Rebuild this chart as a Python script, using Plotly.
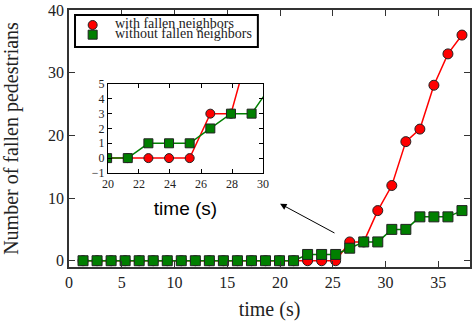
import plotly.graph_objects as go

# data
time_s = [1.33, 2.66, 3.99, 5.32, 6.65, 7.98, 9.31, 10.64, 11.97, 13.3, 14.63, 15.96, 17.29, 18.62,
          19.95, 21.28, 22.61, 23.94, 25.27, 26.6, 27.93, 29.26, 30.59, 31.92, 33.25, 34.58, 35.91, 37.24]
with_fallen = [0, 0, 0, 0, 0, 0, 0, 0, 0, 0, 0, 0, 0, 0,
               0, 0, 0, 0, 0, 3, 3, 8, 12, 19, 21, 28, 33, 36]
without_fallen = [0, 0, 0, 0, 0, 0, 0, 0, 0, 0, 0, 0, 0, 0,
                  0, 0, 1, 1, 1, 2, 3, 3, 5, 5, 7, 7, 7, 8]
legend_names = ["with fallen neighbors", "without fallen neighbors"]

serif = "Liberation Serif"
red = "#ff0000"
green = "#007f00"
edge = "#222222"

fig = go.Figure()

def add_series(x_ax, y_ax, msize):
    #red first so the green squares sit on top
    fig.add_trace(go.Scatter(x=time_s, y=with_fallen, mode="lines+markers", name=legend_names[0],
                             line=dict(color=red, width=1.5),
                             marker=dict(symbol="circle", size=msize, color=red, line=dict(color=edge, width=1)),
                             xaxis=x_ax, yaxis=y_ax, showlegend=False))
    fig.add_trace(go.Scatter(x=time_s, y=without_fallen, mode="lines+markers", name=legend_names[1],
                             line=dict(color=green, width=1.5),
                             marker=dict(symbol="square", size=msize, color=green, line=dict(color=edge, width=1)),
                             xaxis=x_ax, yaxis=y_ax, showlegend=False))

add_series("x", "y", 10)
add_series("x2", "y2", 9)

frame = dict(showline=True, linecolor="#333333", linewidth=1.5, mirror="ticks", ticks="inside",
             ticklen=6, tickcolor="#333333", showgrid=False, zeroline=False, automargin=False,
             ticklabeloverflow="allow",
             tickfont=dict(family=serif, size=16, color="#222222"))
fig.update_layout(
    width=475, height=321,
    margin=dict(l=69, r=5, t=10, b=54),
    plot_bgcolor="white", paper_bgcolor="white",
    showlegend=False,
    xaxis=dict(frame, range=[0, 38], tickvals=[0, 5, 10, 15, 20, 25, 30, 35],
               title=dict(text="time (s)", font=dict(family=serif, size=20, color="#222222"), standoff=12)),
    yaxis=dict(frame, range=[-1, 40], tickvals=[0, 10, 20, 30, 40],
               title=dict(text="Number of fallen pedestrians", font=dict(family=serif, size=20, color="#222222"),
                          standoff=25)),
)

inset = dict(showline=True, linecolor="black", linewidth=1, mirror="ticks", ticks="inside",
             ticklen=4, tickcolor="black", showgrid=False, zeroline=False, automargin=False,
             ticklabeloverflow="allow",
             tickfont=dict(family=serif, size=12, color="#222222"))
fig.update_layout(
    xaxis2=dict(inset, domain=[0.097, 0.484], anchor="y2", range=[20, 30],
                tickvals=[20, 22, 24, 26, 28, 30],
                title=dict(text="time (s)", font=dict(family="Liberation Sans", size=19, color="black"),
                           standoff=11)),
    yaxis2=dict(inset, domain=[0.366, 0.712], anchor="x2", range=[-1, 5],
                tickvals=[-1, 0, 1, 2, 3, 4, 5]),
)

#arrow pointing at the inset
fig.add_annotation(x=20.0, y=9.1, ax=25.3, ay=4.3, xref="x", yref="y", axref="x", ayref="y",
                   text="", showarrow=True, arrowhead=2, arrowsize=1.3, arrowwidth=1, arrowcolor="black")

#legend drawn by hand so the rows sit as tight as in the original
fig.add_shape(type="rect", xref="paper", yref="paper", x0=0.015, x1=0.471, y0=0.856, y1=0.981,
              line=dict(color="black", width=2), fillcolor="white")
fig.add_shape(type="circle", xref="paper", yref="paper", xsizemode="pixel", ysizemode="pixel",
              xanchor=0.059, yanchor=0.9416, x0=-4.5, x1=4.5, y0=-4.5, y1=4.5,
              fillcolor=red, line=dict(color=edge, width=1))
fig.add_shape(type="rect", xref="paper", yref="paper", xsizemode="pixel", ysizemode="pixel",
              xanchor=0.059, yanchor=0.904, x0=-4.5, x1=4.5, y0=-4.5, y1=4.5,
              fillcolor=green, line=dict(color=edge, width=1))
for name, ypos in zip(legend_names, [0.9475, 0.9085]):
    fig.add_annotation(x=0.11, y=ypos, xref="paper", yref="paper", xanchor="left", yanchor="middle",
                       text=name, showarrow=False, font=dict(family=serif, size=14, color="#222222"))

#drop the default 8px body margin so the figure fills the window, and hide the modebar
fig.write_html("out.html", config={"displayModeBar": False},
               post_script="document.body.style.margin='0';")
